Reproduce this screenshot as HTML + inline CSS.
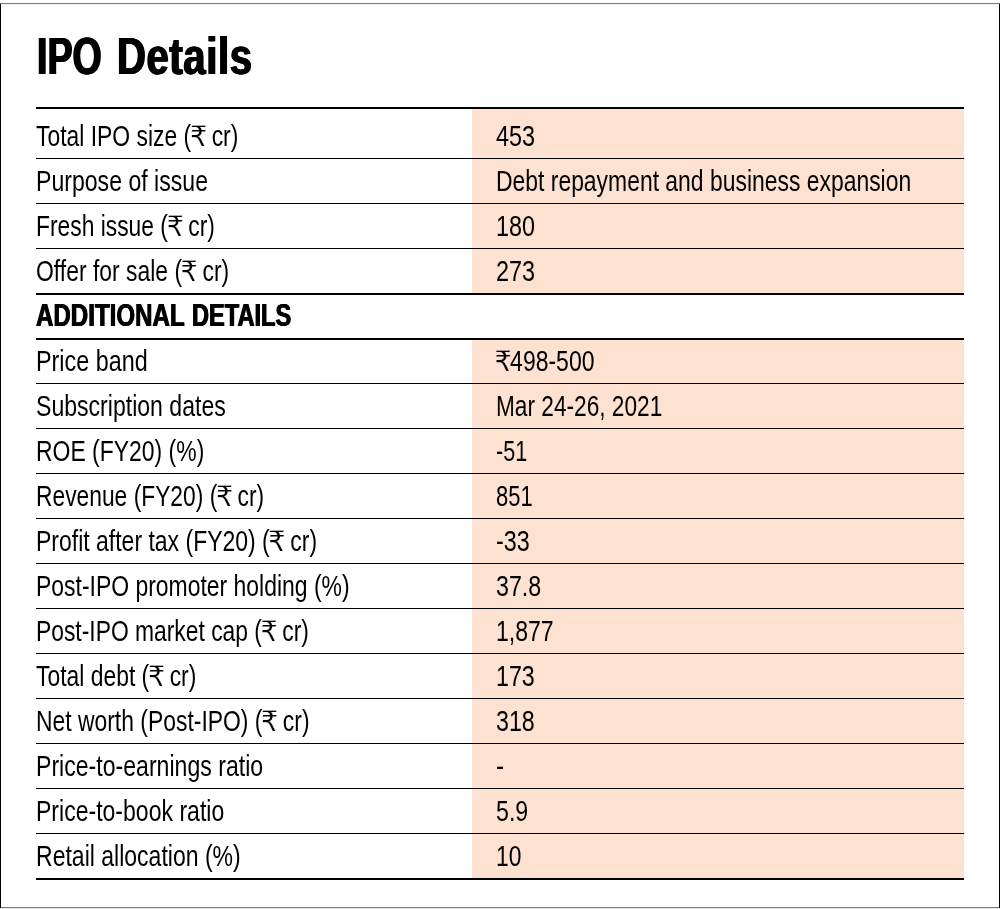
<!DOCTYPE html>
<html lang="en">
<head>
<meta charset="utf-8">
<title>IPO Details</title>
<style>
html,body{margin:0;padding:0;background:#fff;}
body{width:1000px;height:909px;position:relative;overflow:hidden;font-family:"Liberation Sans",Arial,Helvetica,sans-serif;color:#000;}
.frame{position:absolute;left:0;top:0;width:1000px;height:909px;box-sizing:border-box;}
.ft{position:absolute;left:0;top:3px;width:1000px;height:1px;background:#7c7c7c;}
.ft2{position:absolute;left:1px;top:4px;width:998px;height:1px;background:#f1f1f1;}
.fb{position:absolute;left:0;top:907px;width:1000px;height:1px;background:#7c7c7c;}
.fb2{position:absolute;left:0;top:908px;width:1000px;height:1px;background:#e6e6e6;}
.fl{position:absolute;left:0;top:4px;width:1px;height:904px;background:#000;}
.fr{position:absolute;left:999px;top:4px;width:1px;height:904px;background:#000;}
h1{position:absolute;left:0;top:30px;width:300px;height:52px;margin:0;font-size:52.3px;line-height:52px;font-weight:bold;white-space:nowrap;}
h1 span{position:absolute;top:0;display:inline-block;transform-origin:0 0;text-shadow:1.1px 0 0 #000,-1.1px 0 0 #000;}
h1 #h1b{letter-spacing:0.8px;text-shadow:1px 0 0 #000,-1px 0 0 #000;}
.tbl{position:absolute;left:36px;top:107px;width:928px;border-top:2px solid #000;}
.row{position:relative;height:45px;box-sizing:border-box;border-bottom:1px solid #000;font-size:29px;line-height:32px;white-space:nowrap;}
.row.first{height:50px;}
.row.thick{height:46px;border-bottom-width:2px;}
.row.after{height:44px;}
.row.head{height:45px;border-bottom-width:2px;font-weight:bold;font-size:31.6px;}
.row .bg{position:absolute;left:436px;top:0;right:0;bottom:0;background:#fde2d2;}
.row .l,.row .v{position:absolute;bottom:6px;display:inline-block;transform-origin:0 100%;}
.row .l{left:0;}
.row.head .l{bottom:7px;text-shadow:0.6px 0 0 #000,-0.6px 0 0 #000;}
.row .v{left:459.7px;}
.r{font-family:"DejaVu Sans","Liberation Sans",sans-serif;font-size:28.3px;-webkit-text-stroke:0.25px #fff;line-height:1;display:inline-block;transform:scaleX(1.21);transform-origin:0 100%;margin-left:-1.6px;margin-right:1.4px;}
.v .r{-webkit-text-stroke-color:#fde2d2;}
</style>
</head>
<body>
<div class="frame"><div class="ft"></div><div class="ft2"></div><div class="fb"></div><div class="fb2"></div><div class="fl"></div><div class="fr"></div></div>
<h1><span id="h1a" style="left:36.7px;transform:scaleX(0.7192)">IPO</span> <span id="h1b" style="left:116.77px;transform:scaleX(0.7652)">Details</span></h1>
<div class="tbl">
<div class="row first"><div class="bg"></div><span class="l" id="l0" style="transform:scaleX(0.7894)">Total IPO size (<span class="r">₹</span> cr)</span><span class="v" id="v0" style="transform:scaleX(0.8073)">453</span></div>
<div class="row"><div class="bg"></div><span class="l" id="l1" style="transform:scaleX(0.7962)">Purpose of issue</span><span class="v" id="v1" style="transform:scaleX(0.79)">Debt repayment and business expansion</span></div>
<div class="row"><div class="bg"></div><span class="l" id="l2" style="transform:scaleX(0.7869)">Fresh issue (<span class="r">₹</span> cr)</span><span class="v" id="v2" style="transform:scaleX(0.8049)">180</span></div>
<div class="row thick"><div class="bg"></div><span class="l" id="l3" style="transform:scaleX(0.7901)">Offer for sale (<span class="r">₹</span> cr)</span><span class="v" id="v3" style="transform:scaleX(0.8073)">273</span></div>
<div class="row head"><span class="l" id="heada" style="left:0.41px;transform:scaleX(0.7631)">ADDITIONAL</span> <span class="l" id="headb" style="left:156.01px;transform:scaleX(0.7471)">DETAILS</span></div>
<div class="row after"><div class="bg"></div><span class="l" id="l5" style="transform:scaleX(0.8055)">Price band</span><span class="v" id="v5" style="transform:scaleX(0.7925)"><span class="r">₹</span>498-500</span></div>
<div class="row"><div class="bg"></div><span class="l" id="l6" style="transform:scaleX(0.7955)">Subscription dates</span><span class="v" id="v6" style="transform:scaleX(0.7812)">Mar 24-26, 2021</span></div>
<div class="row"><div class="bg"></div><span class="l" id="l7" style="transform:scaleX(0.7912)">ROE (FY20) (%)</span><span class="v" id="v7" style="transform:scaleX(0.7445)">-51</span></div>
<div class="row"><div class="bg"></div><span class="l" id="l8" style="transform:scaleX(0.7864)">Revenue (FY20) (<span class="r">₹</span> cr)</span><span class="v" id="v8" style="transform:scaleX(0.7564)">851</span></div>
<div class="row"><div class="bg"></div><span class="l" id="l9" style="transform:scaleX(0.7927)">Profit after tax (FY20) (<span class="r">₹</span> cr)</span><span class="v" id="v9" style="transform:scaleX(0.8038)">-33</span></div>
<div class="row"><div class="bg"></div><span class="l" id="l10" style="transform:scaleX(0.7909)">Post-IPO promoter holding (%)</span><span class="v" id="v10" style="transform:scaleX(0.8005)">37.8</span></div>
<div class="row"><div class="bg"></div><span class="l" id="l11" style="transform:scaleX(0.7877)">Post-IPO market cap (<span class="r">₹</span> cr)</span><span class="v" id="v11" style="transform:scaleX(0.795)">1,877</span></div>
<div class="row"><div class="bg"></div><span class="l" id="l12" style="transform:scaleX(0.7891)">Total debt (<span class="r">₹</span> cr)</span><span class="v" id="v12" style="transform:scaleX(0.802)">173</span></div>
<div class="row"><div class="bg"></div><span class="l" id="l13" style="transform:scaleX(0.7894)">Net worth (Post-IPO) (<span class="r">₹</span> cr)</span><span class="v" id="v13" style="transform:scaleX(0.8014)">318</span></div>
<div class="row"><div class="bg"></div><span class="l" id="l14" style="transform:scaleX(0.7962)">Price-to-earnings ratio</span><span class="v" id="v14" style="transform:scaleX(0.8359)">-</span></div>
<div class="row"><div class="bg"></div><span class="l" id="l15" style="transform:scaleX(0.7944)">Price-to-book ratio</span><span class="v" id="v15" style="transform:scaleX(0.8001)">5.9</span></div>
<div class="row thick"><div class="bg"></div><span class="l" id="l16" style="transform:scaleX(0.7939)">Retail allocation (%)</span><span class="v" id="v16" style="transform:scaleX(0.7872)">10</span></div>
</div>
</body>
</html>
